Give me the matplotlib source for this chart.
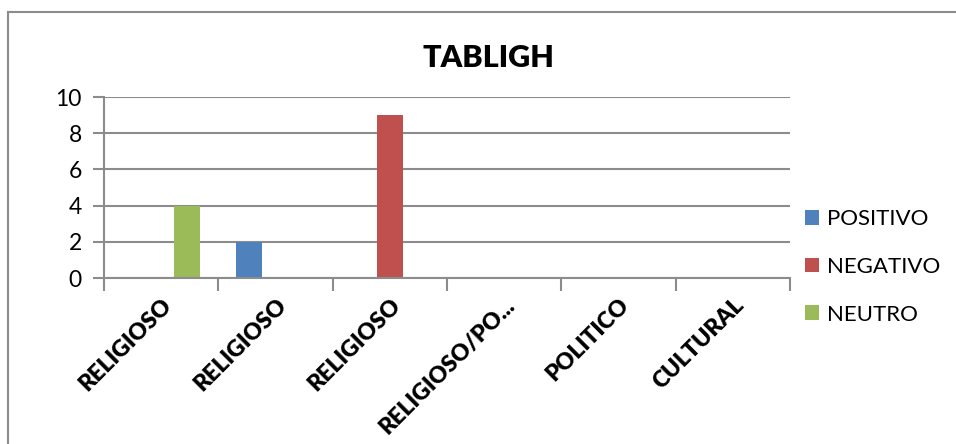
import matplotlib
matplotlib.use("Agg")
import matplotlib.pyplot as plt
import numpy as np
from matplotlib.lines import Line2D

categories = ["RELIGIOSO", "RELIGIOSO", "RELIGIOSO", "RELIGIOSO/PO...", "POLITICO", "CULTURAL"]
series = ["POSITIVO", "NEGATIVO", "NEUTRO"]
positivo = [0, 2, 0, 0, 0, 0]
negativo = [0, 0, 9, 0, 0, 0]
neutro = [4, 0, 0, 0, 0, 0]
colors = ["#4F81BD", "#C0504D", "#9BBB59"]
yticks = [0, 2, 4, 6, 8, 10]

plt.rcParams['font.family'] = ['Lato', 'DejaVu Sans']

W, H = 956, 444
fig = plt.figure(figsize=(W / 100, H / 100), dpi=100)
ax = fig.add_axes([104 / W, 1 - 278 / H, (790 - 104) / W, (278 - 97) / H])

x = np.arange(len(categories))
bw = 0.2275
values = [positivo, negativo, neutro]
for i, (name, vals, c) in enumerate(zip(series, values, colors)):
    ax.bar(x + (i - 1) * bw, vals, width=bw, color=c, label=name, zorder=3)

ax.set_xlim(-0.5, len(categories) - 0.5)
ax.set_ylim(0, 10)
ax.set_yticks(yticks)
ax.set_yticklabels([str(v) for v in yticks], fontsize=16.5)
ax.yaxis.grid(True, color="#8C8C8C", linewidth=1.5, zorder=1)
ax.tick_params(axis='y', length=8, width=1.5, color="#8C8C8C", pad=8)

ax.set_xticks(x)
ax.set_xticklabels(categories, rotation=45, ha='right', rotation_mode='anchor',
                   fontsize=16.5, fontweight='heavy')
ax.tick_params(axis='x', which='major', length=0, pad=12)
ax.set_xticks(np.arange(-0.5, len(categories)), minor=True)
ax.tick_params(axis='x', which='minor', length=9, width=1.5, color="#8C8C8C")

for s in ['top', 'right']:
    ax.spines[s].set_visible(False)
ax.spines['left'].set_color("#8C8C8C")
ax.spines['left'].set_linewidth(1.5)
ax.spines['bottom'].set_color("#8C8C8C")
ax.spines['bottom'].set_linewidth(1.5)
ax.spines['left'].set_zorder(4)
ax.spines['bottom'].set_zorder(4)

fig.text(488 / W, 1 - 58 / H, "TABLIGH", fontsize=22, fontweight='heavy',
         ha='center', va='center')

leg = fig.legend(loc='upper left', bbox_to_anchor=(805 / W, 1 - 209 / H),
                 frameon=False, fontsize=16, handlelength=0.65, handleheight=0.65,
                 handletextpad=0.35, labelspacing=1.25, borderpad=0, borderaxespad=0)

# outer chart border (left and top edges visible)
fig.add_artist(Line2D([8 / W, 8 / W], [0, 1 - 12 / H], transform=fig.transFigure,
                      color="#8C8C8C", linewidth=1.5))
fig.add_artist(Line2D([8 / W, 1], [1 - 12 / H, 1 - 12 / H], transform=fig.transFigure,
                      color="#8C8C8C", linewidth=1.5))

fig.savefig("out.png", dpi=100)
